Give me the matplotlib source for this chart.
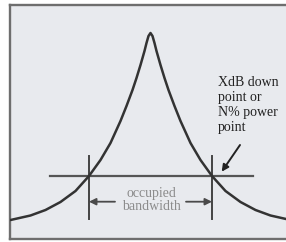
import matplotlib
matplotlib.use("Agg")
import matplotlib.pyplot as plt
import numpy as np

# Curve: offset from the peak centre and height above baseline
offsets = [0, 2, 4, 6, 8, 10, 14, 18, 24, 30, 40, 50, 61.5, 75, 90, 105, 120, 140]
heights = [200, 197, 190, 182, 175, 168, 155, 143, 127, 112, 90, 73, 57, 42, 31, 23, 17.5, 13]

level = 57                      # XdB down level
band_edges = [-61.5, 61.5]      # occupied bandwidth edges
level_span = [-100.5, 102.5]    # horizontal level line extent
edge_span = [14, 77]            # vertical marker extent
arrow_y = 31.3
arrow_from = [-35.5, 35.5]
band_label = "occupied\nbandwidth"
point_label = "XdB down\npoint or\nN% power\npoint"

plt.rcParams['font.family'] = ['Liberation Serif', 'DejaVu Serif']

fig = plt.figure(figsize=(2.86, 2.42), dpi=100)
fig.patch.set_facecolor('white')
ax = fig.add_axes([10/286, 3/242, 276/286, 234/242])
ax.set_facecolor('#e8eaee')
ax.set_xlim(-140.5, 135.5)
ax.set_ylim(-6, 228)
ax.set_xticks([]); ax.set_yticks([])
for s in ['left', 'top', 'bottom']:
    ax.spines[s].set_color('#6e6e6e')
    ax.spines[s].set_linewidth(1.7)
ax.spines['right'].set_visible(False)

off = np.array(offsets, dtype=float)
h = np.array(heights, dtype=float)
x = np.concatenate([-off[::-1], off[1:]])
y = np.concatenate([h[::-1], h[1:]])
ax.plot(x, y, color='#333333', lw=1.8, solid_capstyle='round',
        solid_joinstyle='round', zorder=3)

ax.plot(level_span, [level, level], color='#555555', lw=1.6, zorder=2)
for e in band_edges:
    ax.plot([e, e], edge_span, color='#444444', lw=1.4, zorder=2)

for start, end in zip(arrow_from, band_edges):
    ax.annotate('', xy=(end, arrow_y), xytext=(start, arrow_y),
                arrowprops=dict(arrowstyle='-|>', color='#4a4a4a', lw=1.3,
                                mutation_scale=10, shrinkA=0, shrinkB=0))

ax.text(0.5, 33, band_label, ha='center', va='center', fontsize=10,
        color='#8c8c8c', linespacing=1.0)

ax.text(67.5, 157, point_label, ha='left', va='top', fontsize=10,
        color='#222222', linespacing=1.2)
ax.annotate('', xy=(71.2, 61.3), xytext=(89.5, 88),
            arrowprops=dict(arrowstyle='-|>', color='#222222', lw=1.4,
                            mutation_scale=10, shrinkA=0, shrinkB=0))

fig.savefig('out.png', dpi=100)
